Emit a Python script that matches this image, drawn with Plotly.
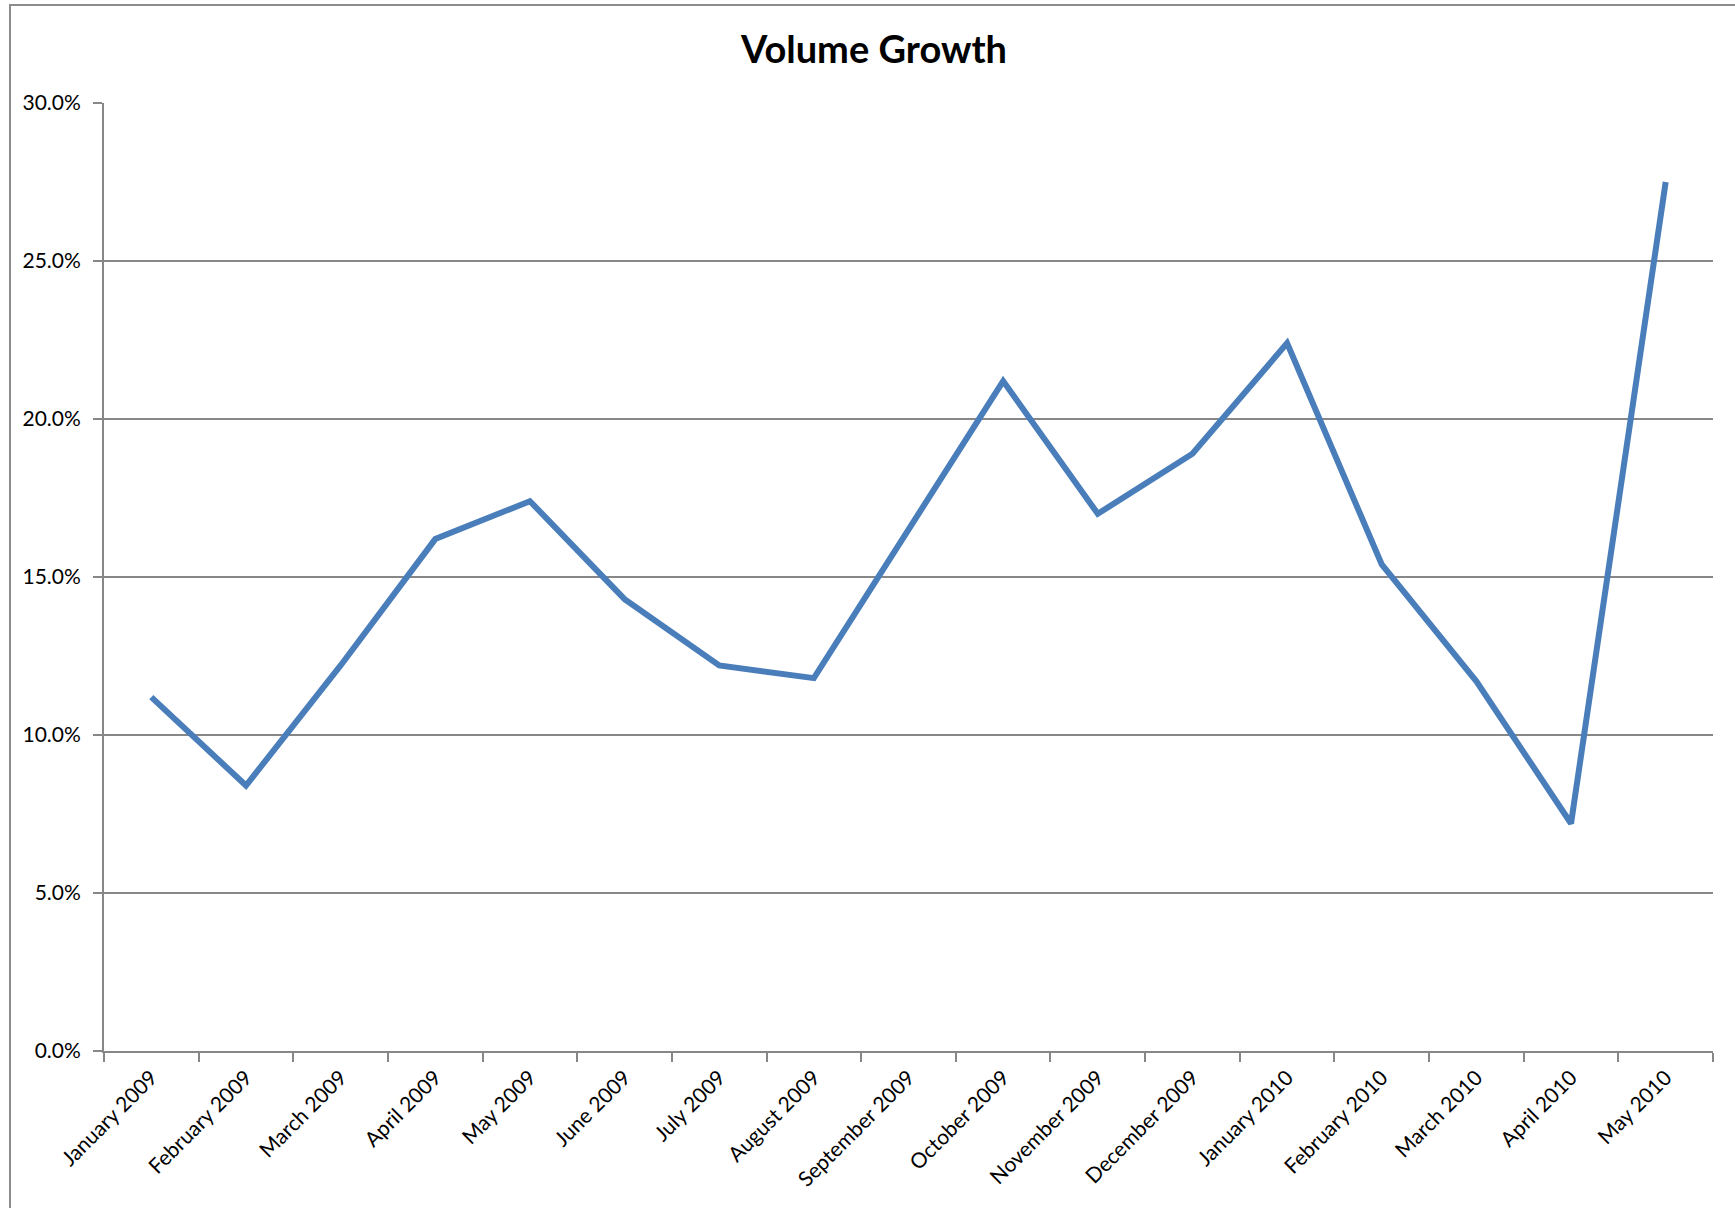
import plotly.graph_objects as go

months = ["January 2009", "February 2009", "March 2009", "April 2009", "May 2009",
          "June 2009", "July 2009", "August 2009", "September 2009", "October 2009",
          "November 2009", "December 2009", "January 2010", "February 2010",
          "March 2010", "April 2010", "May 2010"]
growth = [0.112, 0.084, 0.122, 0.162, 0.174, 0.143, 0.122, 0.118, 0.165, 0.212,
          0.170, 0.189, 0.224, 0.154, 0.117, 0.072, 0.275]
y_ticks = [0.0, 0.05, 0.10, 0.15, 0.20, 0.25, 0.30]

W, H = 1735, 1208
L, R, T, B = 104, 22, 103, 157
pw, ph = W - L - R, H - T - B

FONT = "Lato, Open Sans, sans-serif"
GRAY = "#878787"

fig = go.Figure()
fig.add_trace(go.Scatter(
    x=months, y=growth, mode="lines",
    line=dict(color="#4a7ebb", width=6),
    showlegend=False,
))

fig.update_layout(
    width=W, height=H, autosize=False,
    margin=dict(l=L, r=R, t=T, b=B),
    paper_bgcolor="white", plot_bgcolor="white",
    font=dict(family=FONT, color="black", size=21),
    title=dict(text="<b>Volume Growth</b>", x=874 / W, xref="container",
               y=1 - 50 / H, yref="container", xanchor="center", yanchor="middle",
               font=dict(family=FONT, size=38, color="black")),
    xaxis=dict(
        type="category", tickson="boundaries", tickangle=-45,
        showline=True, linecolor=GRAY, linewidth=2,
        ticks="outside", ticklen=9, tickcolor=GRAY, tickwidth=2,
        showgrid=False, tickfont=dict(size=21), ticklabelstandoff=4,
        range=[-0.5, len(months) - 0.5],
    ),
    yaxis=dict(
        range=[0, 0.30], tickvals=y_ticks, tickformat=".1%",
        showline=True, linecolor=GRAY, linewidth=2,
        ticks="outside", ticklen=9, tickcolor=GRAY, tickwidth=2,
        showgrid=True, gridcolor=GRAY, gridwidth=1.5,
        zeroline=False, tickfont=dict(size=21), ticklabelstandoff=8,
    ),
    shapes=[dict(
        type="rect", xref="paper", yref="paper",
        x0=(10 - L) / pw, x1=(W + 10 - L) / pw,
        y0=(H - B - (H + 10)) / ph, y1=(H - B - 5) / ph,
        line=dict(color="#8c8c8c", width=2), fillcolor="rgba(0,0,0,0)",
        layer="below",
    )],
)

fig.write_html("out.html", config={"displayModeBar": False},
               post_script="document.body.style.margin='0';")
